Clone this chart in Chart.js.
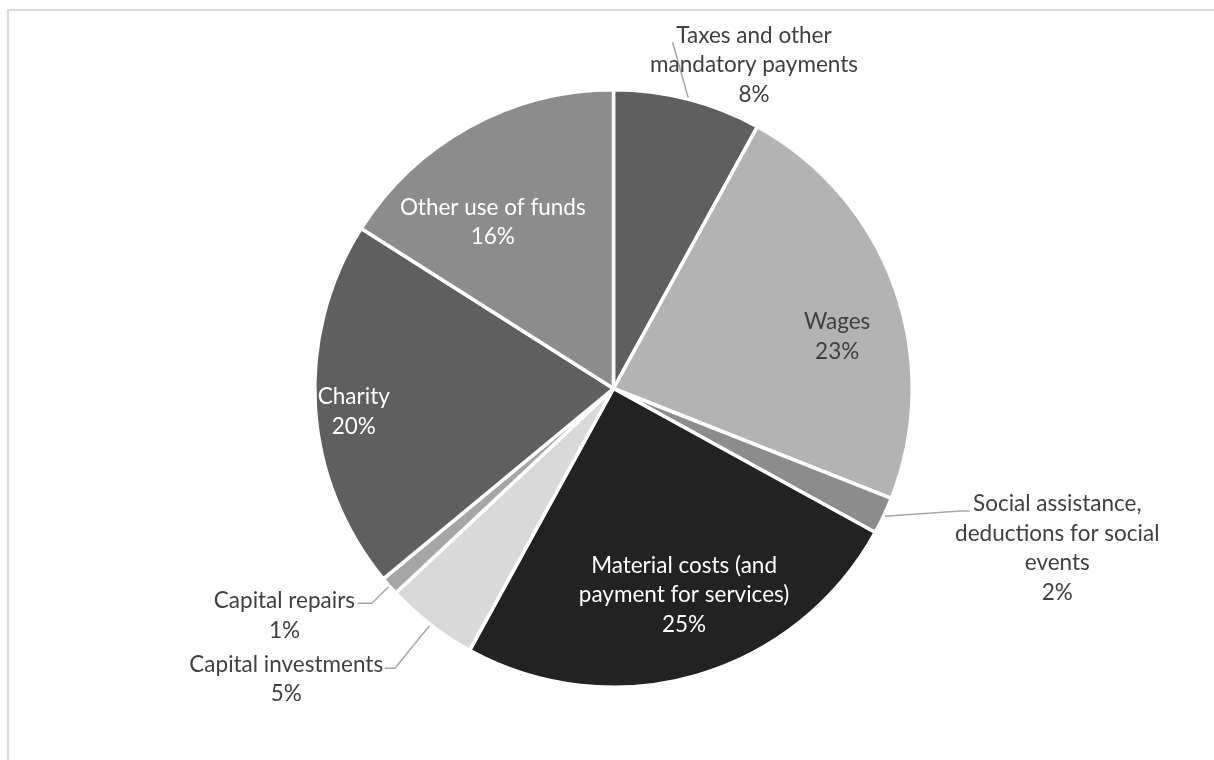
<!DOCTYPE html>
<html>
<head>
<meta charset="utf-8">
<script src="https://cdn.jsdelivr.net/npm/chart.js@4.4.0/dist/chart.umd.min.js"></script>
<style>
  html, body { margin: 0; padding: 0; background: #fff; overflow: hidden; }
  #wrap { position: relative; width: 1214px; height: 760px; }
  #frame {
    position: absolute; left: 7px; top: 9px; width: 1300px; height: 900px;
    border-left: 2px solid #d9d9d9; border-top: 2px solid #d9d9d9;
  }
  canvas { position: absolute; left: 0; top: 0; }
</style>
</head>
<body>
<div id="wrap">
  <div id="frame"></div>
  <canvas id="chart" width="1214" height="760"></canvas>
</div>
<script>
const categories = [
  'Taxes and other mandatory payments',
  'Wages',
  'Social assistance, deductions for social events',
  'Material costs (and payment for services)',
  'Capital investments',
  'Capital repairs',
  'Charity',
  'Other use of funds'
];
const shares = [8, 23, 2, 25, 5, 1, 20, 16];
const labelLines = [
  ['Taxes and other', 'mandatory payments'],
  ['Wages'],
  ['Social assistance,', 'deductions for social', 'events'],
  ['Material costs (and', 'payment for services)'],
  ['Capital investments'],
  ['Capital repairs'],
  ['Charity'],
  ['Other use of funds']
];
const sliceColors = ['#5f5f5f', '#b3b3b3', '#8c8c8c', '#222222', '#d9d9d9', '#a6a6a6', '#5f5f5f', '#8c8c8c'];

// label block centres and leader end points, in units of the pie radius from its centre
const labelPlace = [
  { at: [0.468, -1.078], color: '#404040', leader: [[0.197, -1.153]] },
  { at: [0.745, -0.173], color: '#404040' },
  { at: [1.478, 0.532], color: '#404040', leader: [[1.155, 0.408], [1.187, 0.408]] },
  { at: [0.235, 0.688], color: '#ffffff' },
  { at: [-1.09, 0.969], color: '#404040', leader: [[-0.728, 0.932], [-0.762, 0.932]] },
  { at: [-1.096, 0.757], color: '#404040', leader: [[-0.805, 0.715], [-0.852, 0.715]] },
  { at: [-0.865, 0.077], color: '#ffffff' },
  { at: [-0.402, -0.553], color: '#ffffff' }
];

const FONT = '22.5px Lato';
const LINE_H = 29.5;

const sliceLabels = {
  id: 'sliceLabels',
  afterDatasetsDraw(chart) {
    const { ctx } = chart;
    const arcs = chart.getDatasetMeta(0).data;
    const cx = arcs[0].x, cy = arcs[0].y, r = arcs[0].outerRadius + 1.5;
    ctx.save();
    arcs.forEach((arc, i) => {
      const place = labelPlace[i];
      if (place.leader) {
        const mid = (arc.startAngle + arc.endAngle) / 2;
        ctx.beginPath();
        ctx.moveTo(cx + Math.cos(mid) * r, cy + Math.sin(mid) * r);
        place.leader.forEach(p => ctx.lineTo(cx + p[0] * r, cy + p[1] * r));
        ctx.strokeStyle = '#a6a6a6';
        ctx.lineWidth = 1.5;
        ctx.stroke();
      }
      const lines = labelLines[i].concat([shares[i] + '%']);
      const x = cx + place.at[0] * r;
      const y0 = cy + place.at[1] * r - (lines.length - 1) * LINE_H / 2;
      ctx.font = FONT;
      ctx.fillStyle = place.color;
      ctx.textAlign = 'center';
      ctx.textBaseline = 'middle';
      lines.forEach((t, k) => ctx.fillText(t, x, y0 + k * LINE_H));
    });
    ctx.restore();
  }
};

new Chart(document.getElementById('chart'), {
  type: 'pie',
  data: {
    labels: categories,
    datasets: [{
      data: shares,
      backgroundColor: sliceColors,
      borderColor: '#ffffff',
      borderWidth: 3.5
    }]
  },
  options: {
    responsive: false,
    animation: false,
    layout: { padding: { top: 88, bottom: 71, left: 13, right: 0 } },
    plugins: {
      legend: { display: false },
      tooltip: { enabled: false }
    }
  },
  plugins: [sliceLabels]
});
</script>
</body>
</html>
